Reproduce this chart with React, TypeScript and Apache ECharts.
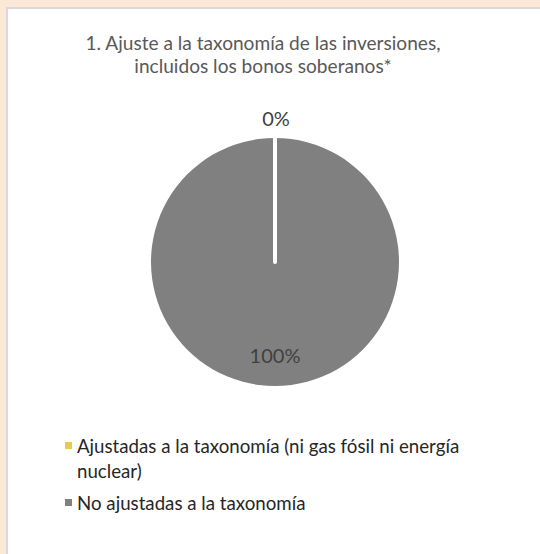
import React, { useEffect, useRef } from "react";
import * as echarts from "echarts";

const titleLines = [
  "1. Ajuste a la taxonomía de las inversiones,",
  "incluidos los bonos soberanos*",
];
const categories = [
  "Ajustadas a la taxonomía (ni gas fósil ni energía nuclear)",
  "No ajustadas a la taxonomía",
];
const legendLabels = [
  "\nAjustadas a la taxonomía (ni gas fósil ni energía\nnuclear)",
  "No ajustadas a la taxonomía",
];
const values = [0, 100];
const colors = ["#E9CB4C", "#808080"];

export default function App() {
  const ref = useRef<HTMLDivElement>(null);
  useEffect(() => {
    if (!ref.current) return;
    const chart = echarts.init(ref.current, null, { renderer: "svg" });
    const font = "Lato";
    // draw the big slice first so the zero slice's white edge sits on top
    const order = [1, 0];
    const data = order.map((i) => ({
      name: categories[i],
      value: values[i],
      itemStyle: {
        color: colors[i],
        borderColor: "#FFFFFF",
        borderWidth: i === 0 ? 4 : 0,
      },
      label:
        i === 0
          ? { position: "outside" as const }
          : { position: "inside" as const },
    }));
    chart.setOption({
      animation: false,
      backgroundColor: "#FBE8D7",
      graphic: [
        {
          type: "rect",
          shape: { x: 7, y: 8, width: 700, height: 700 },
          style: { fill: "#FFFFFF", stroke: "#D9D9D9", lineWidth: 2 },
          z: -10,
        },
      ],
      title: {
        text: titleLines.join("\n"),
        left: 263,
        textAlign: "center",
        top: 31,
        padding: 0,
        textStyle: {
          fontFamily: font,
          fontSize: 19.1,
          fontWeight: "normal",
          color: "#595959",
          lineHeight: 23,
        },
      },
      legend: {
        orient: "vertical",
        left: 65,
        top: 408,
        padding: 0,
        icon: "rect",
        itemWidth: 7,
        itemHeight: 7,
        itemGap: 7,
        itemStyle: { borderWidth: 0 },
        data: categories,
        formatter: (name: string) => legendLabels[categories.indexOf(name)],
        textStyle: {
          fontFamily: font,
          fontSize: 18.7,
          color: "#262626",
          lineHeight: 25,
        },
      },
      series: [
        {
          type: "pie",
          center: [275, 262],
          radius: 124,
          startAngle: 90,
          clockwise: true,
          avoidLabelOverlap: false,
          label: {
            show: true,
            formatter: "{d}%",
            fontFamily: font,
            fontSize: 20,
            color: "#404040",
          },
          labelLine: { show: false, length: 0, length2: 0 },
          labelLayout: (p: any) =>
            p.dataIndex === 0 ? { dy: 28 } : { dy: -20, dx: -4, align: "center" },
          data,
        },
      ],
    });
    return () => chart.dispose();
  }, []);
  return (
    <div
      ref={ref}
      style={{ position: "fixed", left: 0, top: 0, width: 540, height: 554 }}
    />
  );
}
